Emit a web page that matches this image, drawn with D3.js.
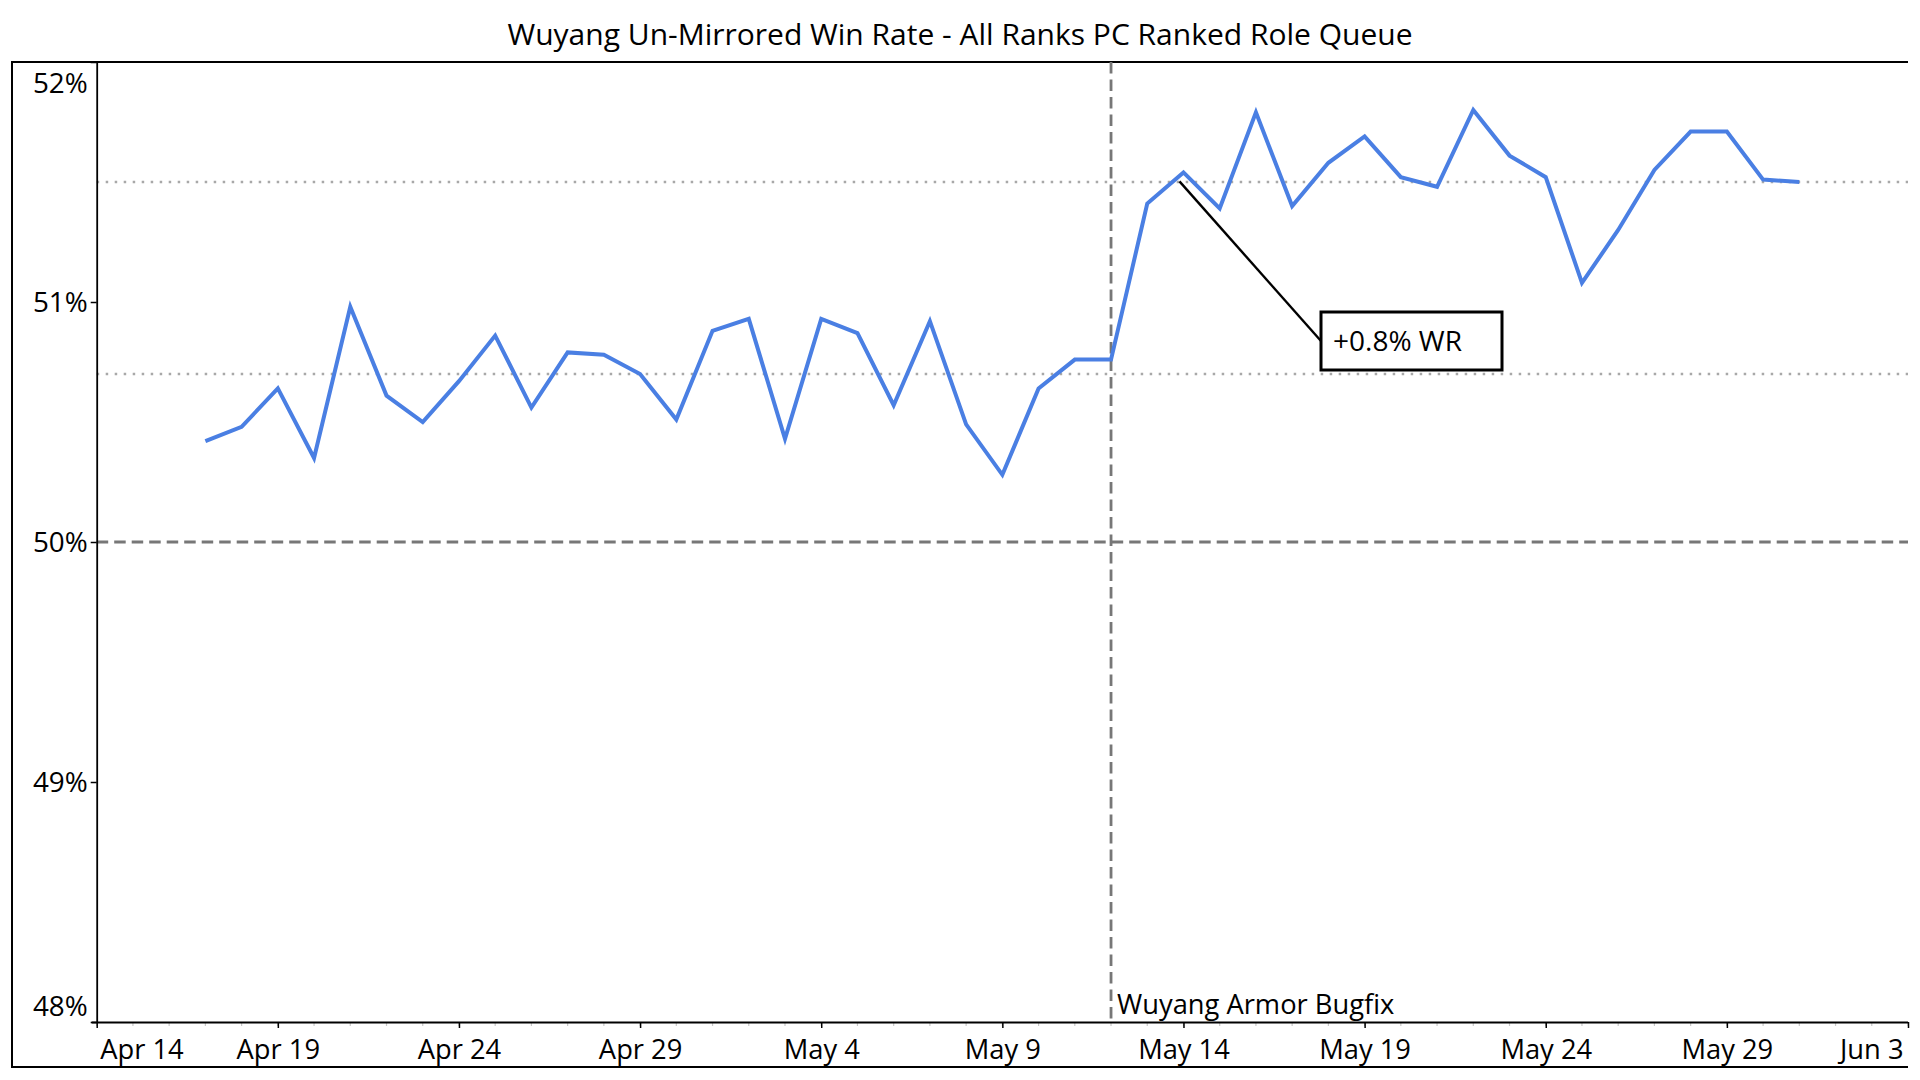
<!DOCTYPE html>
<html>
<head>
<meta charset="utf-8">
<script src="https://cdn.jsdelivr.net/npm/d3@7"></script>
<style>
  body { margin: 0; background: #ffffff; }
  svg text { font-family: "Open Sans", sans-serif; fill: #000; }
</style>
</head>
<body>
<svg id="chart" width="1920" height="1080"></svg>
<script>
// ---------------- data ----------------
const chartTitle = "Wuyang Un-Mirrored Win Rate - All Ranks PC Ranked Role Queue";

const dates = [
  "2025-04-17","2025-04-18","2025-04-19","2025-04-20","2025-04-21","2025-04-22",
  "2025-04-23","2025-04-24","2025-04-25","2025-04-26","2025-04-27","2025-04-28",
  "2025-04-29","2025-04-30","2025-05-01","2025-05-02","2025-05-03","2025-05-04",
  "2025-05-05","2025-05-06","2025-05-07","2025-05-08","2025-05-09","2025-05-10",
  "2025-05-11","2025-05-12","2025-05-13","2025-05-14","2025-05-15","2025-05-16",
  "2025-05-17","2025-05-18","2025-05-19","2025-05-20","2025-05-21","2025-05-22",
  "2025-05-23","2025-05-24","2025-05-25","2025-05-26","2025-05-27","2025-05-28",
  "2025-05-29","2025-05-30","2025-05-31"
];

const winRate = [
  50.42, 50.48, 50.64, 50.35, 50.98, 50.61,
  50.50, 50.67, 50.86, 50.56, 50.79, 50.78,
  50.70, 50.51, 50.88, 50.93, 50.43, 50.93,
  50.87, 50.57, 50.92, 50.49, 50.28, 50.64,
  50.76, 50.76, 51.41, 51.54, 51.39, 51.79,
  51.40, 51.58, 51.69, 51.52, 51.48, 51.80,
  51.61, 51.52, 51.08, 51.30, 51.55, 51.71,
  51.71, 51.51, 51.50
];

const xDomain = ["2025-04-14", "2025-06-03"];
const xTickDates = ["2025-04-14","2025-04-19","2025-04-24","2025-04-29","2025-05-04",
                    "2025-05-09","2025-05-14","2025-05-19","2025-05-24","2025-05-29","2025-06-03"];
const yDomain = [48, 52];
const yTicks = [48, 49, 50, 51, 52];
const baselineValue = 50;
const referenceValues = [50.70, 51.50];   // average before / after the fix
const eventDate = "2025-05-12";
const eventLabel = "Wuyang Armor Bugfix";
const annotationDate = "2025-05-14";
const annotationText = "+0.8% WR";

// ---------------- layout ----------------
const svg = d3.select("#chart");
const plot = { left: 96.7, right: 1908, top: 62, bottom: 1022 };
const frame = { left: 12, top: 62, right: 1908, bottom: 1067 };

const parse = d3.utcParse("%Y-%m-%d");
const x = d3.scaleUtc().domain(xDomain.map(parse)).range([plot.left, plot.right]);
const y = d3.scaleLinear().domain(yDomain).range([plot.bottom, plot.top]);

const data = dates.map((d, i) => ({ date: parse(d), value: winRate[i] }));

// title
svg.append("text")
  .attr("x", 960).attr("y", 45)
  .attr("text-anchor", "middle")
  .style("font-size", "30px")
  .text(chartTitle);

// frame (top, left, bottom)
svg.append("path")
  .attr("d", `M${frame.right},${frame.top}H${frame.left}V${frame.bottom}H${frame.right}`)
  .attr("fill", "none").attr("stroke", "#000").attr("stroke-width", 2);

// reference (average) dotted lines
svg.selectAll(".ref").data(referenceValues).enter().append("line")
  .attr("x1", plot.left).attr("x2", plot.right)
  .attr("y1", d => y(d)).attr("y2", d => y(d))
  .attr("stroke", "#a8a8a8").attr("stroke-width", 2.4)
  .attr("stroke-dasharray", "2.5,6.5");

// 50% baseline dashed
svg.append("line")
  .attr("x1", plot.left).attr("x2", plot.right)
  .attr("y1", y(baselineValue)).attr("y2", y(baselineValue))
  .attr("stroke", "#777777").attr("stroke-width", 2.8)
  .attr("stroke-dasharray", "11.5,6");

// event vertical dashed line
svg.append("line")
  .attr("x1", x(parse(eventDate))).attr("x2", x(parse(eventDate)))
  .attr("y1", plot.top).attr("y2", plot.bottom)
  .attr("stroke", "#777777").attr("stroke-width", 2.8)
  .attr("stroke-dasharray", "11.5,6");

// event label
svg.append("text")
  .attr("x", x(parse(eventDate)) + 6).attr("y", 1014)
  .style("font-size", "27.3px")
  .text(eventLabel);

// minor daily ticks
const minorDays = d3.utcDay.range(parse(xDomain[0]), d3.utcDay.offset(parse(xDomain[1]), 1));
svg.append("g").selectAll("line").data(minorDays).enter().append("line")
  .attr("x1", d => x(d)).attr("x2", d => x(d))
  .attr("y1", plot.bottom + 1).attr("y2", plot.bottom + 4)
  .attr("stroke", "#c8c8c8").attr("stroke-width", 1.2);

// x axis
const xAxis = d3.axisBottom(x)
  .tickValues(xTickDates.map(parse))
  .tickFormat(d3.utcFormat("%b %-d"))
  .tickSize(6).tickSizeOuter(0);
const gx = svg.append("g").attr("transform", `translate(0,${plot.bottom})`).call(xAxis);
gx.select(".domain").attr("stroke", "#000").attr("stroke-width", 1.8)
  .attr("d", `M${plot.left - 5},0.5H${plot.right}`);
gx.selectAll(".tick line").attr("stroke", "#000").attr("stroke-width", 1.5);
gx.selectAll(".tick text")
  .attr("y", 0).attr("dy", null)
  .attr("transform", "translate(0,37)")
  .style("font-size", "27.3px").attr("fill", "#000");
const xLabels = gx.selectAll(".tick text").nodes();
d3.select(xLabels[0]).attr("text-anchor", "start").attr("x", 3);
d3.select(xLabels[xLabels.length - 1]).attr("text-anchor", "end").attr("x", -5);

// y axis
const yAxis = d3.axisLeft(y)
  .tickValues(yTicks)
  .tickFormat(d => d + "%")
  .tickSize(6).tickSizeOuter(0);
const gy = svg.append("g").attr("transform", `translate(${plot.left},0)`).call(yAxis);
gy.select(".domain").attr("stroke", "#000").attr("stroke-width", 1.8);
gy.selectAll(".tick line").attr("stroke", "#000").attr("stroke-width", 1.5);
gy.selectAll(".tick text")
  .attr("x", -9).attr("dy", "0.33em")
  .style("font-size", "27.8px").attr("fill", "#000");
gy.selectAll(".tick text").filter(d => d === yDomain[1]).attr("dy", "1.1em");
gy.selectAll(".tick text").filter(d => d === yDomain[0]).attr("dy", "-0.25em");

// win-rate line
const line = d3.line().x(d => x(d.date)).y(d => y(d.value));
svg.append("path").datum(data)
  .attr("d", line)
  .attr("fill", "none")
  .attr("stroke", "#4a7fe3")
  .attr("stroke-width", 4)
  .attr("stroke-linejoin", "miter");

// annotation
const annPoint = data.find(d => +d.date === +parse(annotationDate));
const box = { x: 1321, y: 312, w: 181, h: 58 };
svg.append("line")
  .attr("x1", x(annPoint.date) - 4).attr("y1", y(annPoint.value) + 9)
  .attr("x2", box.x).attr("y2", box.y + 29)
  .attr("stroke", "#000").attr("stroke-width", 2.4);
svg.append("rect")
  .attr("x", box.x).attr("y", box.y).attr("width", box.w).attr("height", box.h)
  .attr("fill", "#fff").attr("stroke", "#000").attr("stroke-width", 3);
svg.append("text")
  .attr("x", box.x + 12).attr("y", box.y + 39)
  .style("font-size", "28px")
  .text(annotationText);
</script>
</body>
</html>
